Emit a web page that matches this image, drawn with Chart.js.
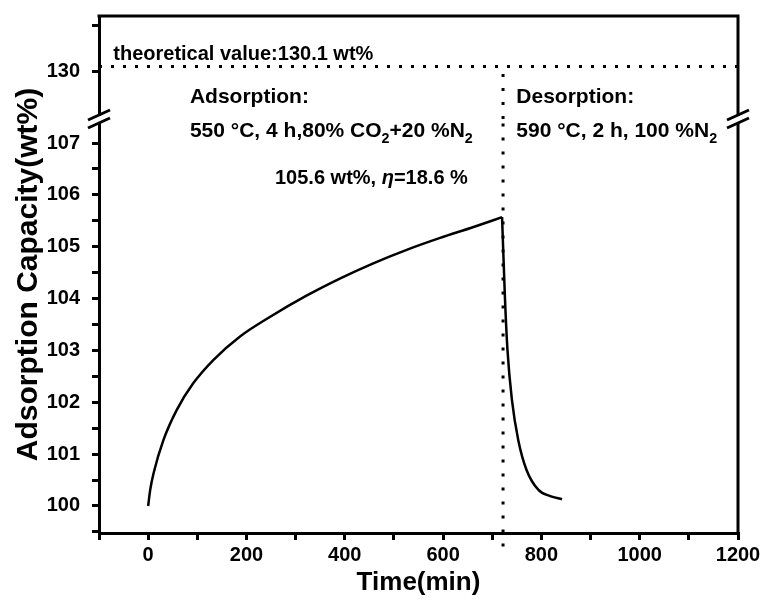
<!DOCTYPE html>
<html>
<head>
<meta charset="utf-8">
<script src="https://cdn.jsdelivr.net/npm/chart.js@4"></script>
<style>
  body { margin: 0; background: #fff; }
  canvas { display: block; }
</style>
</head>
<body>
<canvas id="chart" width="766" height="601"></canvas>
<script>
// adsorption step (time in min, capacity in wt%)
const adsTime = [0, 4, 11, 31, 58, 92, 133, 187, 245, 323, 391, 458, 526, 594, 662, 720];
const adsCapacity = [100.0, 100.3, 100.63, 101.27, 101.85, 102.37, 102.82, 103.27, 103.63, 104.06, 104.39, 104.68, 104.94, 105.17, 105.38, 105.57];
// desorption step
const desTime = [720, 726, 731, 740, 753, 770, 794, 818, 842];
const desCapacity = [105.57, 103.98, 103.01, 102.05, 101.27, 100.69, 100.31, 100.19, 100.13];

const theoreticalValue = 130.1;
const switchTime = 722;
const xTickLabels = [0, 200, 400, 600, 800, 1000, 1200];
const yTickLabels = [100, 101, 102, 103, 104, 105, 106, 107];
const yTopTickLabels = [130];

const FONT = "'Liberation Sans', Arial, sans-serif";

// text notes: [x (min), y value, axis, parts, size]
const notes = [
  [-71, 130.24, "yTop", [["theoretical value:130.1 wt%"]], 20],
  [85, 107.78, "y", [["Adsorption:"]], 21],
  [85, 107.12, "y", [["550 °C, 4 h,80% CO"], ["2", "sub"], ["+20 %N"], ["2", "sub"]], 21],
  [258, 106.2, "y", [["105.6 wt%, "], ["η", "i"], ["=18.6 %"]], 20],
  [749, 107.78, "y", [["Desorption:"]], 21],
  [749, 107.12, "y", [["590 °C, 2 h, 100 %N"], ["2", "sub"]], 21]
];

function drawRich(ctx, x, y, parts, size) {
  ctx.textBaseline = "alphabetic";
  ctx.textAlign = "left";
  for (const [txt, kind] of parts) {
    let s = size, dy = 0, style = "bold";
    if (kind === "sub") { s = size * 0.68; dy = size * 0.3; }
    if (kind === "i") { style = "italic bold"; }
    ctx.font = style + " " + s + "px " + FONT;
    ctx.fillText(txt, x, y + dy);
    x += ctx.measureText(txt).width;
  }
}

const framePlugin = {
  id: "frame",
  beforeDraw(chart) {
    const ctx = chart.ctx;
    ctx.save();
    ctx.fillStyle = "#fff";
    ctx.fillRect(0, 0, chart.width, chart.height);
    ctx.restore();
  },
  afterDraw(chart) {
    const ctx = chart.ctx;
    const a = chart.chartArea;
    const yb = chart.scales.y.top;
    ctx.save();
    ctx.strokeStyle = "#000";
    ctx.lineWidth = 3;
    ctx.beginPath();
    ctx.moveTo(a.left - 1.5, a.top);
    ctx.lineTo(a.right, a.top);
    ctx.lineTo(a.right, a.bottom + 1.5);
    ctx.stroke();

    // axis break marks
    for (const x of [a.left, a.right]) {
      ctx.fillStyle = "#fff";
      ctx.fillRect(x - 3, yb - 3, 6, 7);
      ctx.lineWidth = 3;
      ctx.beginPath();
      ctx.moveTo(x - 11, yb - 4 + 5);
      ctx.lineTo(x + 11, yb - 4 - 5);
      ctx.moveTo(x - 11, yb + 4 + 5);
      ctx.lineTo(x + 11, yb + 4 - 5);
      ctx.stroke();
    }

    // y title
    ctx.fillStyle = "#000";
    ctx.translate(29, (a.top + a.bottom) / 2);
    ctx.rotate(-Math.PI / 2);
    ctx.font = "bold 30px " + FONT;
    ctx.textAlign = "center";
    ctx.textBaseline = "middle";
    ctx.fillText("Adsorption Capacity(wt%)", 0, 0);
    ctx.restore();

    // notes
    ctx.save();
    ctx.fillStyle = "#000";
    for (const [t, v, ax, parts, size] of notes) {
      const px = chart.scales.x.getPixelForValue(t);
      const py = chart.scales[ax].getPixelForValue(v);
      drawRich(ctx, px, py, parts, size);
    }
    ctx.restore();
  }
};

const tickFont = { family: FONT, size: 20, weight: "bold" };
const axisBorder = { color: "#000", width: 3 };
const axisGrid = { drawOnChartArea: false, color: "#000", lineWidth: 3, tickLength: 7 };
const toPoints = (xs, ys) => xs.map((t, i) => ({ x: t, y: ys[i] }));
const curveStyle = { yAxisID: "y", borderColor: "#000", borderWidth: 2.5, pointRadius: 0, cubicInterpolationMode: "monotone" };
const dotStyle = { borderColor: "#000", borderWidth: 3, pointRadius: 0 };
const fitY = s => { s.width = 99; s.paddingTop = 0; s.paddingBottom = 0; };

const ctx = document.getElementById("chart").getContext("2d");
new Chart(ctx, {
  type: "line",
  data: {
    datasets: [
      { ...curveStyle, data: toPoints(adsTime, adsCapacity) },
      { ...curveStyle, data: toPoints(desTime, desCapacity) },
      { ...dotStyle, yAxisID: "yTop", borderDash: [3, 9],
        data: [{ x: -100, y: theoreticalValue }, { x: 1200, y: theoreticalValue }] },
      { ...dotStyle, yAxisID: "yTop", borderDash: [3, 11],
        data: [{ x: switchTime, y: 128.96 }, { x: switchTime, y: theoreticalValue }] },
      { ...dotStyle, yAxisID: "y", borderDash: [3, 11], clip: false,
        data: [{ x: switchTime, y: 99.22 }, { x: switchTime, y: 107.46 }] }
    ]
  },
  options: {
    responsive: false,
    animation: false,
    layout: { padding: { left: 0, right: 28, top: 16, bottom: 0 } },
    plugins: { legend: { display: false }, tooltip: { enabled: false } },
    scales: {
      x: {
        type: "linear",
        min: -100,
        max: 1200,
        border: axisBorder,
        grid: axisGrid,
        ticks: {
          stepSize: 100,
          autoSkip: false,
          maxRotation: 0,
          padding: 3,
          color: "#000",
          font: tickFont,
          callback: v => xTickLabels.includes(v) ? v : ""
        },
        title: {
          display: true,
          text: "Time(min)",
          color: "#000",
          font: { family: FONT, size: 26, weight: "bold" },
          padding: { top: 0, bottom: 3 }
        },
        afterFit: s => { s.height = 68; }
      },
      y: {
        type: "linear",
        position: "left",
        stack: "left",
        stackWeight: 414,
        min: 99.479,
        max: 107.463,
        border: axisBorder,
        grid: axisGrid,
        ticks: {
          stepSize: 0.5,
          includeBounds: false,
          autoSkip: false,
          padding: 12,
          color: "#000",
          font: tickFont,
          callback: v => yTickLabels.includes(v) ? v : ""
        },
        afterFit: fitY
      },
      yTop: {
        type: "linear",
        position: "left",
        stack: "left",
        stackWeight: 103,
        min: 128.96,
        max: 131.2,
        border: axisBorder,
        grid: axisGrid,
        ticks: {
          autoSkip: false,
          padding: 12,
          color: "#000",
          font: tickFont,
          callback: v => yTopTickLabels.includes(v) ? v : ""
        },
        afterBuildTicks: s => { s.ticks = [{ value: 130 }, { value: 131 }]; },
        afterFit: fitY
      }
    }
  },
  plugins: [framePlugin]
});
</script>
</body>
</html>
